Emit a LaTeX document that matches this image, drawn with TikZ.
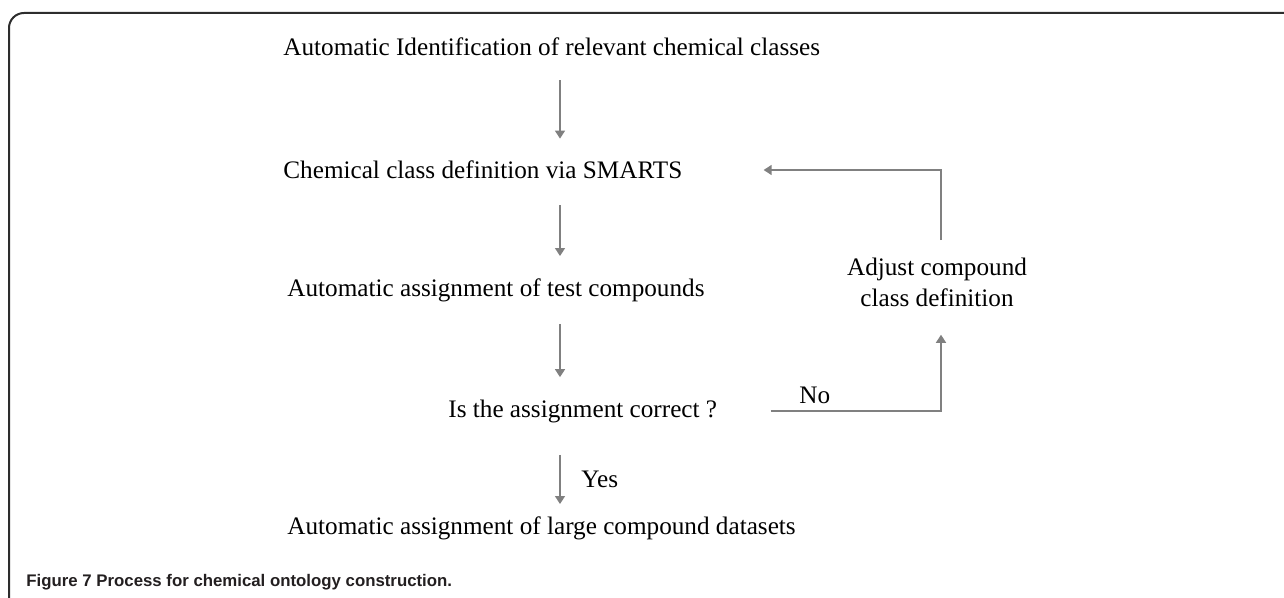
\documentclass[tikz,border=0pt]{standalone}
\usepackage{fontspec}
\setmainfont{Liberation Serif}
\newfontfamily\capfont{Liberation Sans}
\usetikzlibrary{arrows.meta}
\definecolor{arrowgrey}{RGB}{128,128,128}
\definecolor{framegrey}{RGB}{45,45,45}
\definecolor{capgrey}{RGB}{35,31,32}
\tikzset{
  stage/.style={inner xsep=0pt, inner ysep=11pt, anchor=west, font=\fontsize{12.6}{15.5}\selectfont},
  flow/.style={draw=arrowgrey, line width=0.75pt, -{Triangle[length=4pt,width=5pt]}},
}
\begin{document}
\begin{tikzpicture}[x=0.5pt,y=-0.5pt]
  \useasboundingbox (0,0) rectangle (1284,598);
  \draw[line width=1pt, draw=framegrey, rounded corners=7.5pt] (9,598) -- (9,13) -- (1284,13);
  \node[stage] (ident) at (283,47) {Automatic Identification of relevant chemical classes};
  \node[stage] (smarts) at (283,170) {Chemical class definition via SMARTS};
  \node[stage] (test) at (287,290) {Automatic assignment of test compounds};
  \node[stage] (check) at (448,411) {Is the assignment correct ?};
  \node[stage] (large) at (287,528) {Automatic assignment of large compound datasets};
  \node[stage, anchor=center, align=center, inner ysep=0pt] (adjust) at (937,282) {Adjust compound\\class definition};
  \coordinate (spine) at (560,0);
  \coordinate (loopx) at (941,0);
  \draw[flow] ([yshift=-1pt]ident.south -| spine) -- (smarts.north -| spine);
  \draw[flow] ([yshift=-2pt]smarts.south -| spine) -- (test.north -| spine);
  \draw[flow] (test.south -| spine) -- (check.north -| spine);
  \draw[flow] ([yshift=-5pt]check.south -| spine) -- ([yshift=-5pt]large.north -| spine)
    node[midway, right=7pt, font=\fontsize{12.6}{15.5}\selectfont] (yes) {Yes};
  \draw[flow] ([xshift=26.5pt]check.east) -| ([yshift=-14pt]adjust.south -| loopx)
    node[pos=0.13, above, font=\fontsize{12.6}{15.5}\selectfont] (no) {No};
  \draw[flow] ([yshift=8.5pt]adjust.north -| loopx) |- ([xshift=40.5pt]smarts.east);
  \node[anchor=west, inner sep=0pt, text=capgrey, font=\capfont\bfseries\fontsize{8.4}{10}\selectfont] (caption) at (26,582) {Figure 7 Process for chemical ontology construction.};
\end{tikzpicture}
\end{document}
